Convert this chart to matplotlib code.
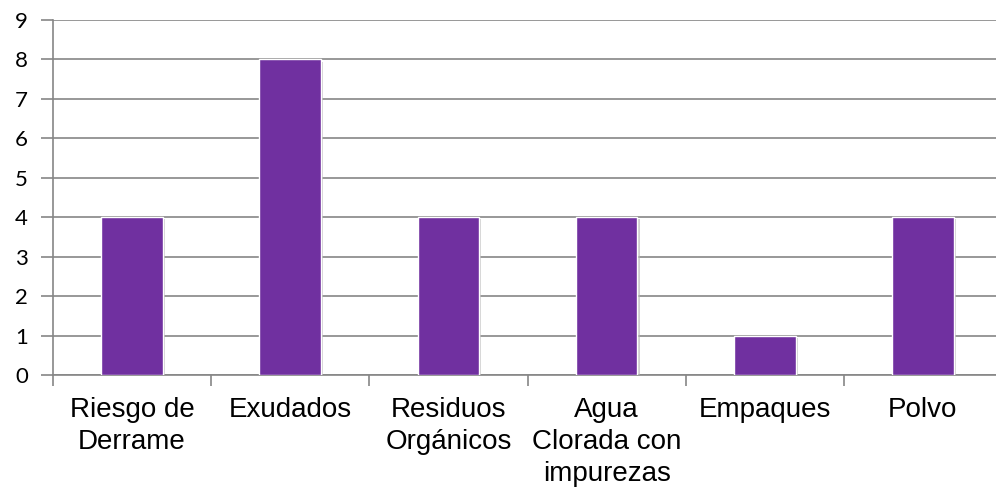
import matplotlib
matplotlib.use("Agg")
import matplotlib.pyplot as plt
import matplotlib.patheffects as pe
import numpy as np

categories = ["Riesgo de\nDerrame", "Exudados", "Residuos\nOrgánicos",
              "Agua\nClorada con\nimpurezas", "Empaques", "Polvo"]
values = [4, 8, 4, 4, 1, 4]
y_ticks = list(range(0, 10))

bar_color = "#7030A0"
grid_color = "#868686"

fig = plt.figure(figsize=(9.96, 4.91), dpi=100)
ax = fig.add_axes([53 / 996, 116 / 491, 949 / 996, 355 / 491])

x = np.arange(len(categories))
bars = ax.bar(x, values, width=0.39, color=bar_color, edgecolor="white",
              linewidth=1.0, zorder=3)
for b in bars:
  b.set_path_effects([pe.SimplePatchShadow(offset=(1.5, -1.5), shadow_rgbFace="#b0b0b0", alpha=0.6),
                      pe.Normal()])

ax.set_xlim(-0.5, len(categories) - 0.5)
ax.set_ylim(0, 9)
ax.set_yticks(y_ticks)
ax.yaxis.grid(True, color=grid_color, linewidth=1.2, zorder=0)
ax.set_axisbelow(True)

for side in ["top", "right"]:
  ax.spines[side].set_visible(False)
for side in ["left", "bottom"]:
  ax.spines[side].set_color(grid_color)
  ax.spines[side].set_linewidth(1.2)

# category boundary ticks below the axis, labels centered in between
ax.set_xticks(np.arange(-0.5, len(categories), 1.0))
ax.set_xticklabels([])
ax.set_xticks(x, minor=True)
ax.set_xticklabels(categories, minor=True, fontsize=20, family="Liberation Sans",
                   linespacing=1.3)
ax.tick_params(axis="x", which="major", length=8, width=1.2, color=grid_color)
ax.tick_params(axis="x", which="minor", length=0, pad=16)
ax.tick_params(axis="y", length=9, width=1.2, color=grid_color, pad=9,
               labelsize=16)
for lbl in ax.get_yticklabels():
  lbl.set_family("Lato")

fig.savefig("out.png", dpi=100)
